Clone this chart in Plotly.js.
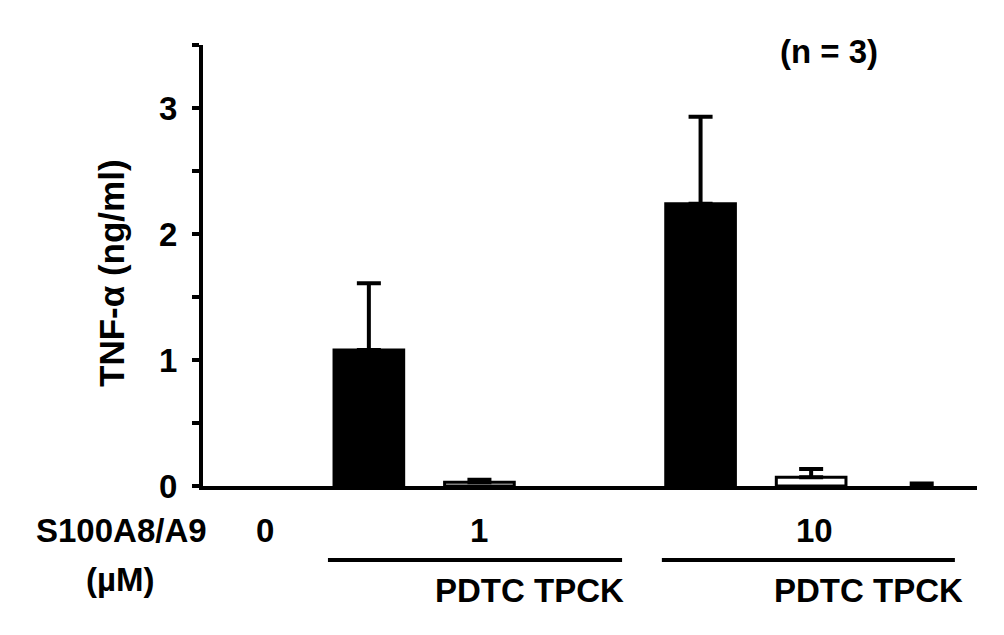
<!DOCTYPE html>
<html>
<head>
<meta charset="utf-8">
<script src="https://cdn.plot.ly/plotly-3.0.1.min.js"></script>
<style>html,body{margin:0;padding:0;background:#fff;}#chart{width:1004px;height:635px;}</style>
</head>
<body>
<div id="chart"></div>
<script>
// Data
var categories = ["0", "1", "1 + PDTC", "1 + TPCK", "10", "10 + PDTC", "10 + TPCK"];
var tnfValues = [0, 1.08, 0.03, 0, 2.24, 0.07, 0];
var tnfErrors = [null, 0.53, 0.02, null, 0.69, 0.065, 0.02];
var barColors = ["#ffffff", "#000000", "#ffffff", "#ffffff", "#000000", "#ffffff", "#ffffff"];
var yTickVals = [0, 0.5, 1, 1.5, 2, 2.5, 3, 3.5];
var yTickText = ["0", "", "1", "", "2", "", "3", ""];
var doseLabels = ["0", "1", "10"];
var inhibitorLabel = "PDTC TPCK";

var FONT = "'Liberation Sans', Arial, sans-serif";
var FS = 33;

function makeTrace(withErr) {
  var idx = [];
  for (var i = 0; i < categories.length; i++) {
    if ((tnfErrors[i] !== null) === withErr) idx.push(i);
  }
  var t = {
    type: "bar",
    x: idx.map(function(i){ return categories[i]; }),
    y: idx.map(function(i){ return tnfValues[i]; }),
    width: 0.63,
    marker: {
      color: idx.map(function(i){ return barColors[i]; }),
      line: {color: "#000000", width: idx.map(function(i){ return tnfValues[i] > 0 ? 3 : 0; })}
    },
    hoverinfo: "skip"
  };
  if (withErr) {
    t.error_y = {
      type: "data", symmetric: false,
      array: idx.map(function(i){ return tnfErrors[i]; }),
      arrayminus: idx.map(function(){ return 0; }),
      color: "#000000", thickness: 4, width: 12
    };
  }
  return t;
}

function ann(text, x, y, xref, extra) {
  var a = {text: "<b>" + text + "</b>", x: x, y: y, xref: xref, yref: "paper",
    showarrow: false, xanchor: "center", yanchor: "middle",
    font: {family: FONT, size: FS, color: "#000"}};
  for (var k in extra) a[k] = extra[k];
  return a;
}

var layout = {
  width: 1004, height: 635,
  margin: {l: 203, r: 27, t: 45, b: 149},
  paper_bgcolor: "#ffffff", plot_bgcolor: "#ffffff",
  showlegend: false,
  barmode: "overlay",
  xaxis: {
    type: "category", categoryorder: "array", categoryarray: categories,
    range: [-0.5, 6.5],
    showticklabels: false, ticks: "", showgrid: false, zeroline: false,
    showline: true, linecolor: "#000", linewidth: 4
  },
  yaxis: {
    range: [0, 3.5], tickvals: yTickVals, ticktext: yTickText,
    ticks: "outside", ticklen: 7, tickwidth: 4, tickcolor: "#000",
    ticklabelstandoff: 8,
    showgrid: false, zeroline: false,
    showline: true, linecolor: "#000", linewidth: 4,
    tickfont: {family: FONT, size: FS, color: "#000", weight: "bold"}
  },
  annotations: [
    ann("TNF-α (ng/ml)", -0.1176, 0.483, "paper", {textangle: -90, font: {family: FONT, size: 35, color: "#000"}}),
    ann("S100A8/A9", -0.1047, -0.0998, "paper"),
    ann("(µM)", -0.107, -0.213, "paper"),
    ann(doseLabels[0], 0.06, -0.0998, "x"),
    ann(doseLabels[1], 2.0, -0.0998, "x"),
    ann(doseLabels[2], 5.03, -0.0998, "x"),
    ann(inhibitorLabel, 2.45, -0.236, "x"),
    ann(inhibitorLabel, 5.52, -0.236, "x"),
    ann("(n = 3)", 5.16, 0.986, "x")
  ],
  shapes: [
    {type: "line", xref: "x", yref: "paper", x0: 0.63, x1: 3.29, y0: -0.168, y1: -0.168,
     line: {color: "#000", width: 4}},
    {type: "line", xref: "x", yref: "paper", x0: 3.65, x1: 6.3, y0: -0.168, y1: -0.168,
     line: {color: "#000", width: 4}}
  ]
};

Plotly.newPlot("chart", [makeTrace(true), makeTrace(false)], layout, {displayModeBar: false, staticPlot: true});
</script>
</body>
</html>
